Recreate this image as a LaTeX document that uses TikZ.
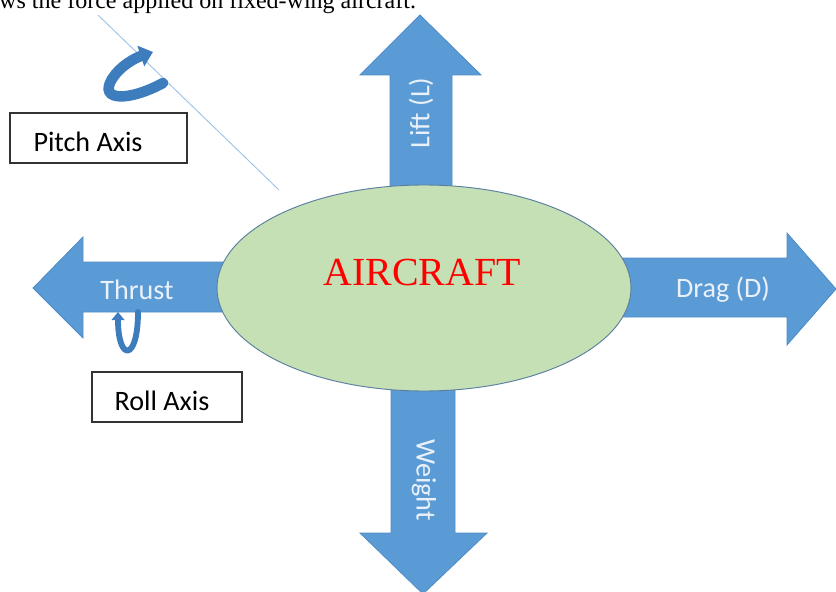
\documentclass[tikz,border=0pt]{standalone}
\usepackage{fontspec}
\setmainfont{Liberation Serif}
\newfontfamily\calfont{Carlito}
\usetikzlibrary{arrows.meta, shapes.geometric}

\definecolor{forceblue}{HTML}{5B9BD5}
\definecolor{forceedge}{HTML}{4F8CC6}
\definecolor{forcetext}{HTML}{EAF1FA}
\definecolor{bodygreen}{HTML}{C5E0B4}
\definecolor{bodyedge}{HTML}{5A7FA0}
\definecolor{axisline}{HTML}{9DC3E6}
\definecolor{curlblue}{HTML}{3D7DBE}

\tikzset{
	force/.style = {fill = forceblue, draw = forceedge, line width = 0.7pt},
	forcelabel/.style = {text = forcetext, font = \calfont\fontsize{24}{28}\selectfont},
	axisbox/.style = {draw = black!80, line width = 1.2pt},
	axislabel/.style = {text = black, font = \calfont\fontsize{24}{28}\selectfont},
	curl/.style = {draw = curlblue, line cap = round}
}

\begin{document}
\begin{tikzpicture}[x = 0.03cm, y = -0.03cm]

	% Frame
	
	\useasboundingbox (0, 0) rectangle (836, 592);
	\clip (0, 0) rectangle (836, 592);
	
	% Caption line cut by the top edge
	
	\node [anchor = base west, inner sep = 0, font = \fontsize{20.5}{24}\selectfont] (caption) at (-1, 9) {ws the force applied on fixed-wing aircraft.};
	
	% Force arrows
	
	\draw [force] (390, 195) -- (390, 75) -- (360, 75) -- (420, 15) -- (481, 75) -- (452, 75) -- (452, 195) -- cycle;
	\draw [force] (391, 380) -- (391, 533) -- (360, 533) -- (423, 594) -- (487, 533) -- (455, 533) -- (455, 380) -- cycle;
	\draw [force] (620, 258) -- (787, 258) -- (787, 233) -- (836, 289) -- (787, 345) -- (787, 317) -- (620, 317) -- cycle;
	\draw [force] (230, 262) -- (83, 262) -- (83, 237) -- (33, 288) -- (83, 338) -- (83, 312) -- (230, 312) -- cycle;
	
	% Aircraft body
	
	\node [ellipse, fill = bodygreen, draw = bodyedge, line width = 0.8pt, minimum width = 414*0.03cm, minimum height = 206*0.03cm, inner sep = 0] (body) at (424, 288) {};
	\node [text = red, font = \fontsize{34}{40}\selectfont] (aircraft) at (422, 273) {AIRCRAFT};
	
	% Force labels
	
	\node [forcelabel, rotate = 90] (lift) at (421, 113) {Lift (L)};
	\node [forcelabel, rotate = -90] (weight) at (424, 480) {Weight};
	\node [forcelabel] (drag) at (723, 290) {Drag (D)};
	\node [forcelabel] (thrust) at (137, 290) {Thrust};
	
	% Pitch axis with rotation
	
	\draw [axisline, line width = 0.8pt] (98, 15) -- (279, 190);
	\draw [curl, line width = 9pt, -{Triangle[width = 18pt, length = 11pt]}] (163, 83) .. controls (130, 101) and (98, 102) .. (112, 79) .. controls (120, 66) and (135, 58) .. (153, 52);
	
	\draw [axisbox] (10, 113) rectangle (187, 163);
	\node [axislabel] (pitch) at (88, 142) {Pitch Axis};
	
	% Roll axis with rotation
	
	\draw [curl, line width = 5pt, -{Triangle[width = 11pt, length = 7pt]}] (138, 312) .. controls (138, 362) and (118, 362) .. (118, 312);
	
	\draw [axisbox] (92, 372) rectangle (242, 422);
	\node [axislabel] (roll) at (162, 401) {Roll Axis};

\end{tikzpicture}
\end{document}
